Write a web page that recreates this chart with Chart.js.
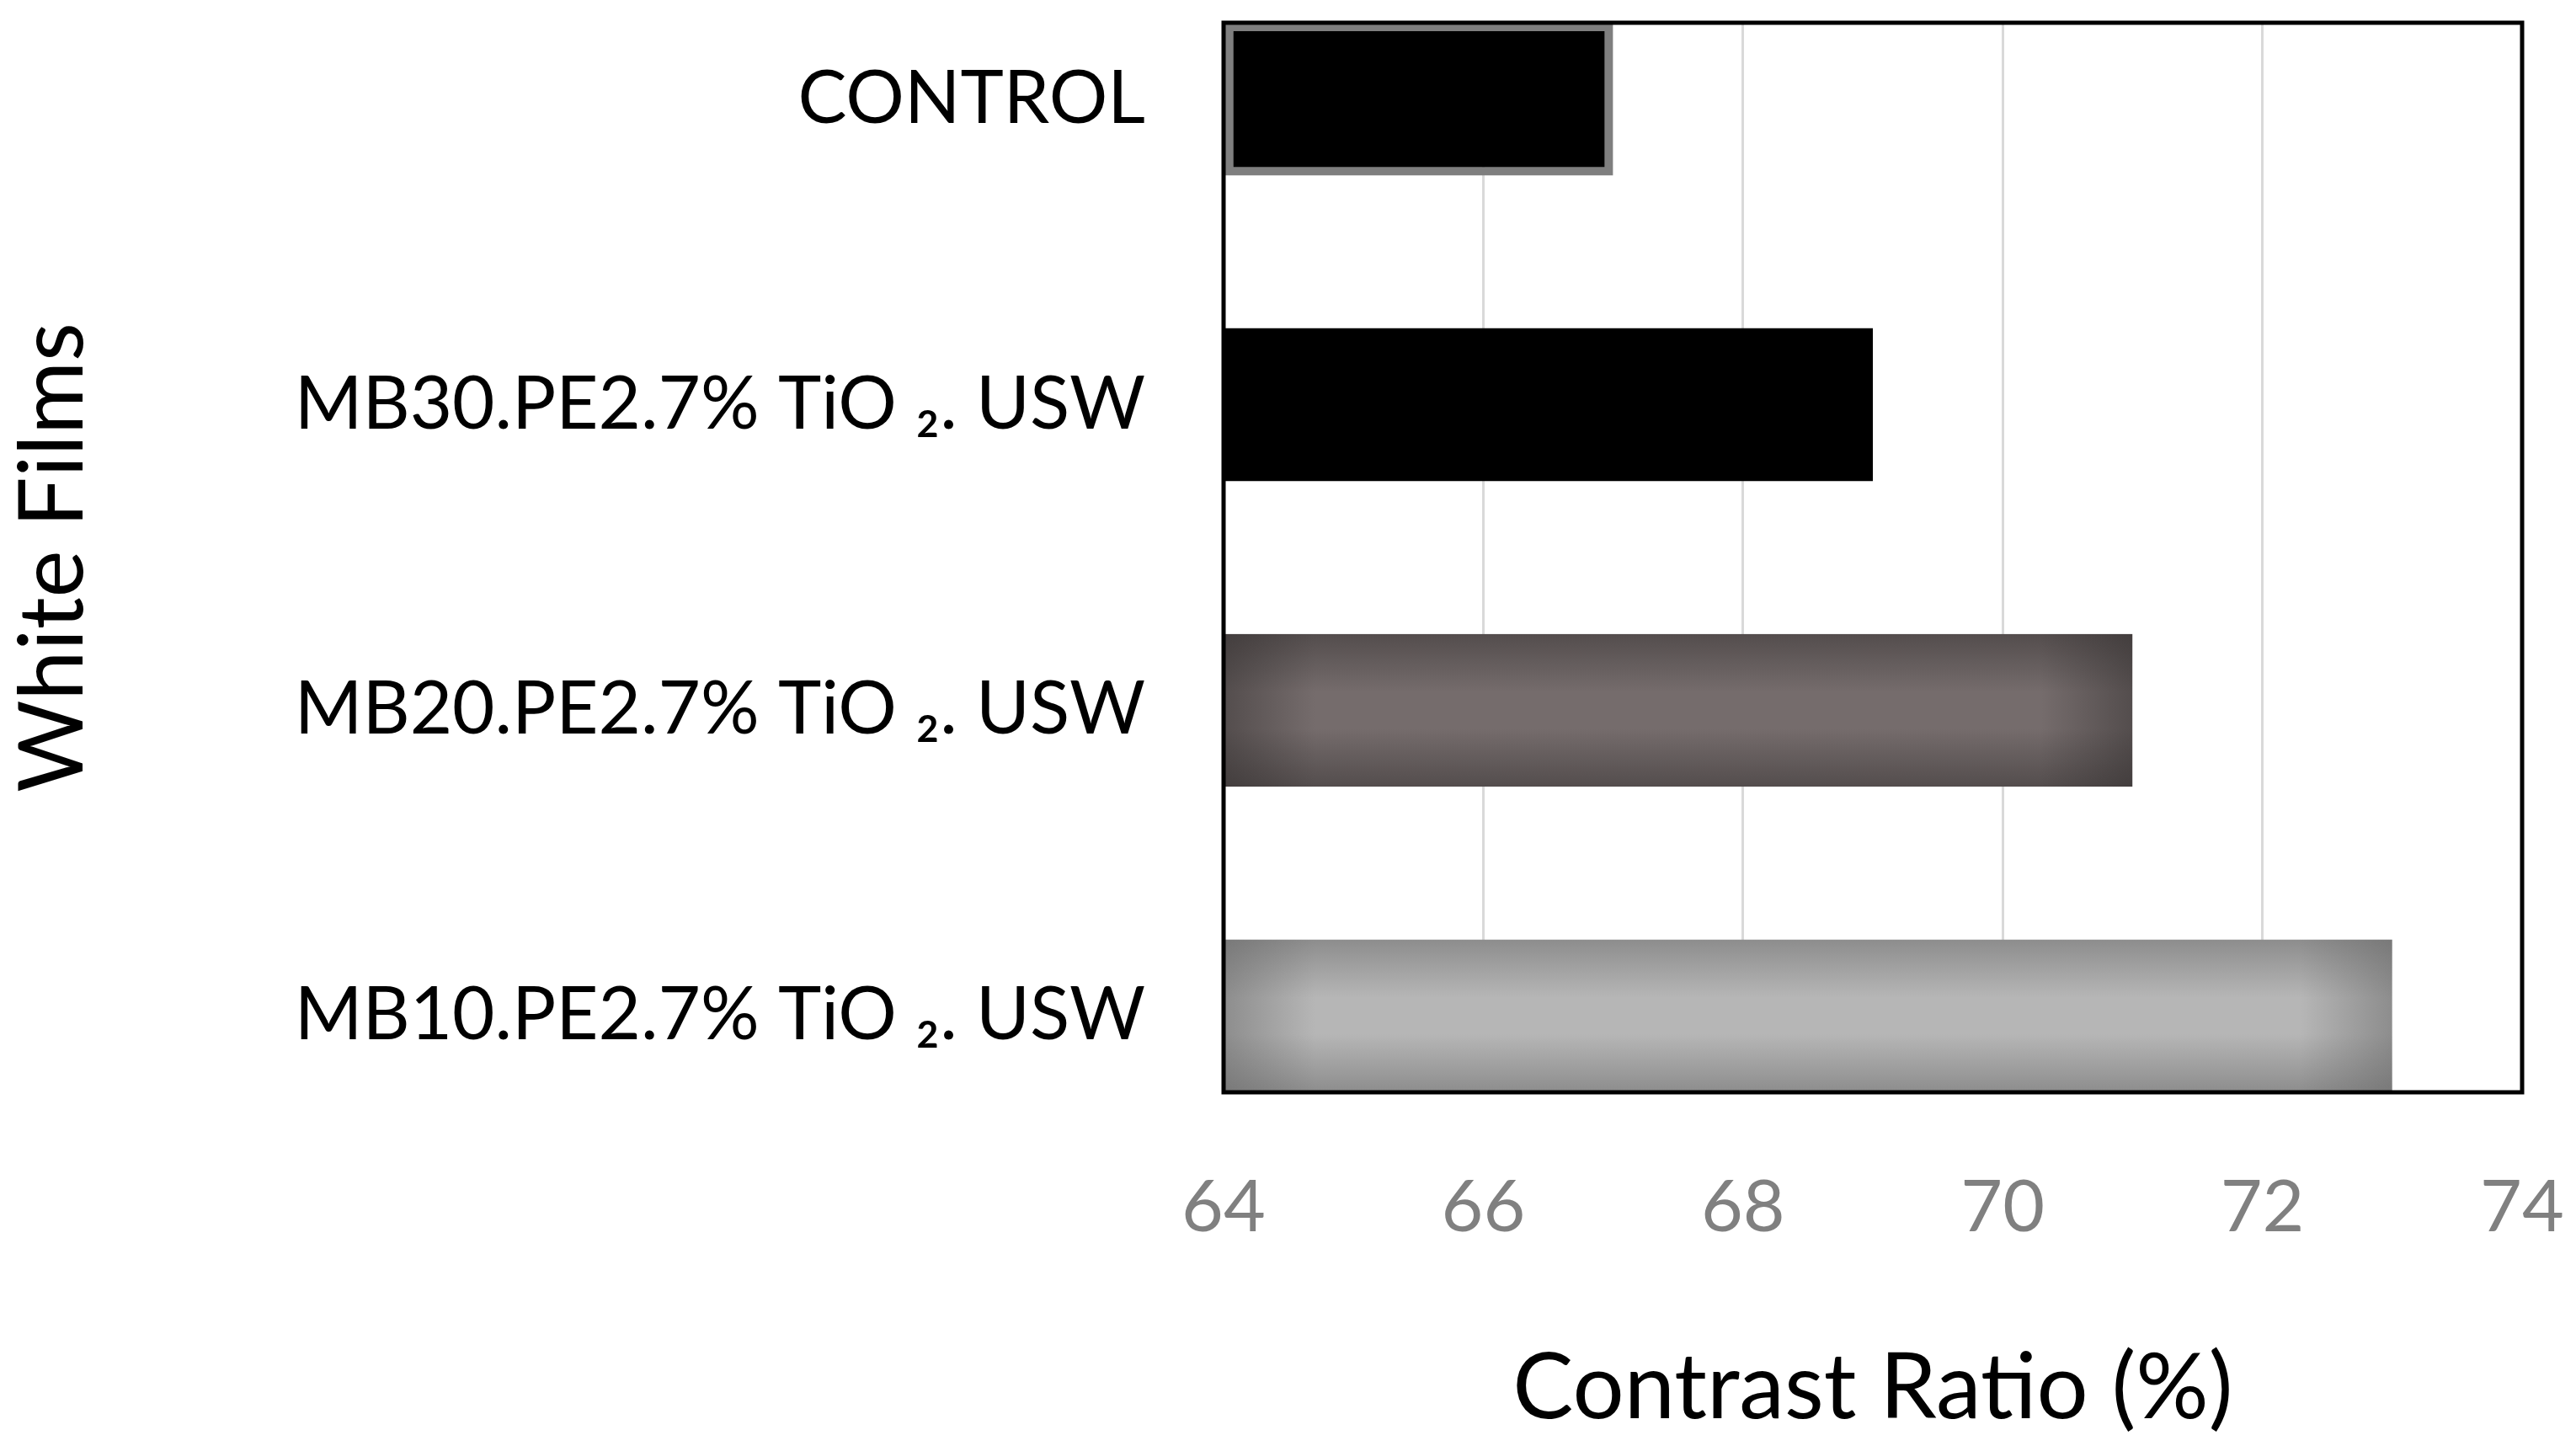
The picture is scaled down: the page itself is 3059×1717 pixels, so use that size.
<!DOCTYPE html>
<html>
<head>
<meta charset="utf-8">
<script src="https://cdn.jsdelivr.net/npm/chart.js@4/dist/chart.umd.min.js"></script>
<style>
  html, body { margin: 0; padding: 0; background: #fff; }
  #wrap { width: 3059px; height: 1717px; }
</style>
</head>
<body>
<div id="wrap"><canvas id="contrastChart"></canvas></div>
<script>
// data
const categories = ['CONTROL', 'MB30.PE2.7% TiO \u2082. USW', 'MB20.PE2.7% TiO \u2082. USW', 'MB10.PE2.7% TiO \u2082. USW'];
const contrastRatio = [67, 69, 71, 73];
const xTicks = [64, 66, 68, 70, 72, 74];

const barPct = 0.5;
// centre colour and edge shadow (rgb) for each bar; null = flat
const fills = ['#000000', '#000000', '#756c6c', '#b6b6b6'];
const shadows = [null, null, '50,46,46', '100,100,100'];

// soft inner shadow: paint the bar's rectangle on a spare canvas and use it as a pattern
function barFill(ctx) {
    const i = ctx.dataIndex;
    const chart = ctx.chart;
    const x = chart.scales.x, y = chart.scales.y;
    if (i === undefined) return fills[0];
    if (!shadows[i] || !chart.chartArea || !x || !y) return fills[i];
    const cy = y.getPixelForValue(i);
    const half = Math.abs(y.getPixelForValue(1) - y.getPixelForValue(0)) * barPct / 2;
    const x0 = x.getPixelForValue(xTicks[0]);
    const x1 = x.getPixelForValue(contrastRatio[i]);
    const y0 = cy - half, y1 = cy + half, w = x1 - x0, h = y1 - y0;
    const dark = 'rgba(' + shadows[i] + ',0.5)';
    const clear = 'rgba(' + shadows[i] + ',0)';

    const off = document.createElement('canvas');
    off.width = chart.width;
    off.height = chart.height;
    const c = off.getContext('2d');
    c.fillStyle = fills[i];
    c.fillRect(x0, y0, w, h);

    const gv = c.createLinearGradient(0, y0, 0, y1);
    gv.addColorStop(0, dark);
    gv.addColorStop(0.38, clear);
    gv.addColorStop(0.62, clear);
    gv.addColorStop(1, dark);
    c.fillStyle = gv;
    c.fillRect(x0, y0, w, h);

    const edge = h * 0.6;
    const gh = c.createLinearGradient(x0, 0, x1, 0);
    gh.addColorStop(0, dark);
    gh.addColorStop(edge / w, clear);
    gh.addColorStop(1 - edge / w, clear);
    gh.addColorStop(1, dark);
    c.fillStyle = gh;
    c.fillRect(x0, y0, w, h);

    return chart.ctx.createPattern(off, 'no-repeat');
}

function noPad(s) {
    s.paddingTop = 0;
    s.paddingBottom = 0;
    s.paddingLeft = 0;
    s.paddingRight = 0;
}

const frame = {
    id: 'frame',
    afterDraw(chart) {
        const a = chart.chartArea, c = chart.ctx;
        c.save();
        c.strokeStyle = '#000';
        c.lineWidth = 5;
        c.strokeRect(a.left, a.top, a.right - a.left, a.bottom - a.top);
        c.restore();
    }
};

Chart.defaults.font.family = "Lato, 'Open Sans', sans-serif";

new Chart(document.getElementById('contrastChart').getContext('2d'), {
    type: 'bar',
    data: {
        labels: categories,
        datasets: [{
            data: contrastRatio,
            base: xTicks[0],
            backgroundColor: barFill,
            borderColor: ['#7f7f7f', '#000000', 'rgba(0,0,0,0)', 'rgba(0,0,0,0)'],
            borderWidth: [10, 0, 0, 0],
            borderSkipped: false,
            barPercentage: barPct,
            categoryPercentage: 1
        }]
    },
    options: {
        indexAxis: 'y',
        responsive: true,
        maintainAspectRatio: false,
        animation: false,
        layout: { padding: { top: 27, right: 64, left: 0, bottom: 0 } },
        plugins: {
            legend: { display: false },
            tooltip: { enabled: false }
        },
        scales: {
            x: {
                min: xTicks[0],
                max: xTicks[xTicks.length - 1],
                afterBuildTicks: (s) => { s.ticks = xTicks.map(v => ({ value: v })); },
                afterFit: (s) => { s.height = 420; noPad(s); },
                grid: { color: '#d9d9d9', lineWidth: 3, drawTicks: false },
                border: { display: false },
                ticks: { color: '#808080', padding: 86, font: { size: 86 } },
                title: {
                    display: true,
                    text: 'Contrast Ratio (%)',
                    color: '#000',
                    font: { size: 108 },
                    padding: { top: 0, bottom: 3 }
                }
            },
            y: {
                offset: false,
                // bars touch the frame: a quarter step of room at each end
                afterBuildTicks: (s) => {
                    s._startValue = -barPct / 2;
                    s._valueRange = categories.length - 1 + barPct;
                },
                afterFit: (s) => { s.width = 1453; noPad(s); },
                grid: { display: false, drawTicks: false },
                border: { display: false },
                ticks: { color: '#000', padding: 93, font: { size: 87 } },
                title: {
                    display: true,
                    text: 'White Films',
                    color: '#000',
                    font: { size: 106 },
                    padding: 0
                }
            }
        }
    },
    plugins: [frame]
});
</script>
</body>
</html>
